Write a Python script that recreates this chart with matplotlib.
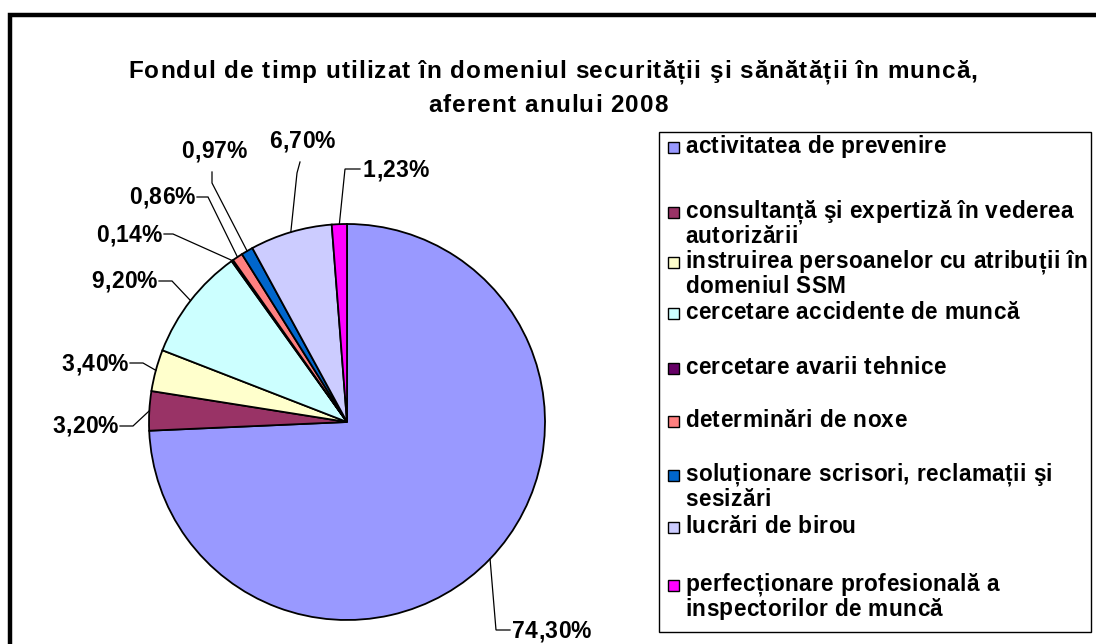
import numpy as np
import matplotlib
matplotlib.use("Agg")
import matplotlib.pyplot as plt
from matplotlib.patches import Rectangle
from matplotlib.font_manager import FontProperties

plt.rcParams['font.family'] = ['Liberation Sans', 'DejaVu Sans']

# ---- data ----
categories = [
    "activitatea de prevenire",
    "consultanță şi expertiză în vederea\nautorizării",
    "instruirea persoanelor cu atribuții în\ndomeniul SSM",
    "cercetare accidente de muncă",
    "cercetare avarii tehnice",
    "determinări de noxe",
    "soluționare scrisori, reclamații şi\nsesizări",
    "lucrări de birou",
    "perfecționare profesională a\ninspectorilor de muncă",
]
values = [74.30, 3.20, 3.40, 9.20, 0.14, 0.86, 0.97, 6.70, 1.23]
colors = ["#9999FF", "#993366", "#FFFFCC", "#CCFFFF", "#660066",
          "#FF8080", "#0066CC", "#CCCCFF", "#FF00FF"]
title_lines = ["Fondul de timp utilizat în domeniul securității şi sănătății în muncă,",
               "aferent anului 2008"]

W, H = 1096, 644
DPI = 100
fig = plt.figure(figsize=(W / DPI, H / DPI), dpi=DPI)
ax = fig.add_axes([0, 0, 1, 1])
renderer = fig.canvas.get_renderer()

def Y(y):
    return H - y

def _w(s, size):
    fp = FontProperties(family="Liberation Sans", weight="bold", size=size)
    return renderer.get_text_width_height_descent(s, fp, ismath=False)[0]

_cache = {}
def advances(s, size):
    out = []
    for c in s:
        key = (c, size)
        if key not in _cache:
            _cache[key] = _w("H" + c + "H", size) - _w("HH", size)
        out.append(_cache[key])
    return out

def natural_width(s, size):
    return sum(advances(s, size))

def spaced_text(x, ybase, s, size, track, ha="left", color="black"):
    """Draw bold text with extra letter spacing (Excel-like), baseline at ybase (px)."""
    adv = advances(s, size)
    total = sum(adv) + track * (len(s) - 1)
    if ha == "center":
        x0 = x - total / 2
    elif ha == "right":
        x0 = x - total
    else:
        x0 = x
    xx = x0
    for c, a in zip(s, adv):
        if c != " ":
            ax.text(xx, Y(ybase), c, ha="left", va="baseline", fontsize=size,
                    fontweight="bold", color=color, family="Liberation Sans")
        xx += a + track
    return x0, x0 + total

def tracking_for(s, size, target):
    return max(0.0, (target - natural_width(s, size)) / (len(s) - 1))

TITLE_SIZE, LABEL_SIZE, LEG_SIZE = 17.5, 16.5, 16.3
title_track = tracking_for(title_lines[0], TITLE_SIZE, 849)
label_track = tracking_for("3,20%", LABEL_SIZE, 66)
leg_track = tracking_for("consultanță şi expertiză în vederea", LEG_SIZE, 388)

cx, cy, R = 347, 422, 198
wedges, _ = ax.pie(values, colors=colors, startangle=90, counterclock=False,
                   center=(cx, Y(cy)), radius=R,
                   wedgeprops=dict(edgecolor="black", linewidth=1.3))
ax.set_xlim(0, W)
ax.set_ylim(0, H)
ax.set_aspect("equal")
ax.axis("off")

# label layout: (text x, text baseline y, ha, elbow(x,y), line end(x,y)) in px
layout = [
    (512, 638, "left",   (496, 630), (510, 630)),
    (118, 433, "right",  (133, 426), (120, 426)),
    (128, 371, "right",  (143, 363), (130, 363)),
    (157, 288, "right",  (172, 281), (159, 281)),
    (162, 242, "right",  (173, 234), (164, 234)),
    (195, 204, "right",  (208, 197), (197, 197)),
    (214, 158, "center", (212, 183), (212, 172)),
    (302, 148, "center", (297, 173), (300, 162)),
    (363, 177, "left",   (345, 169), (360, 169)),
]
for w, v, (tx, ty, ha, el, en) in zip(wedges, values, layout):
    mid = np.deg2rad((w.theta1 + w.theta2) / 2)
    ex, ey = cx + R * np.cos(mid), Y(cy) + R * np.sin(mid)
    ax.plot([ex, el[0], en[0]], [ey, Y(el[1]), Y(en[1])], color="black",
            linewidth=0.9, solid_joinstyle="miter", clip_on=False)
    lab = f"{v:.2f}%".replace(".", ",")
    spaced_text(tx, ty, lab, LABEL_SIZE, label_track, ha=ha)

# title
spaced_text(553, 78, title_lines[0], TITLE_SIZE, title_track, ha="center")
spaced_text(548, 112, title_lines[1], TITLE_SIZE, title_track, ha="center")

# legend (manual, Excel-like)
lx0, ly0, lx1, ly1 = 659, 132, 1091, 632
ax.add_patch(Rectangle((lx0, Y(ly1)), lx1 - lx0, ly1 - ly0, fill=False,
                       edgecolor="black", linewidth=1.0, clip_on=False))
first_line_y = [147, 212, 262, 313, 368, 421, 475, 527, 585]
for cat, col, yy in zip(categories, colors, first_line_y):
    ax.add_patch(Rectangle((668, Y(yy) - 5.5), 11, 11, facecolor=col,
                           edgecolor="black", linewidth=1.0))
    for i, line in enumerate(cat.split("\n")):
        spaced_text(685, yy + 6 + i * 24.5, line, LEG_SIZE, leg_track, ha="left")

# outer frame
ax.plot([10, 10, W + 10], [-10, Y(15), Y(15)], color="black", linewidth=3.2,
        clip_on=False, solid_joinstyle="miter")

fig.savefig("out.png", dpi=DPI, facecolor="white")
